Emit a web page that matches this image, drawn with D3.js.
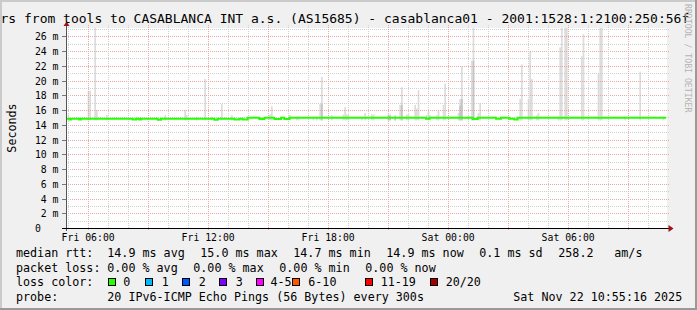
<!DOCTYPE html>
<html>
<head>
<meta charset="utf-8">
<script src="https://cdn.jsdelivr.net/npm/d3@7"></script>
<style>
  body { margin: 0; background: #f0f0f0; }
  svg { display: block; font-family: "DejaVu Sans Mono", monospace; }
</style>
</head>
<body>
<svg id="chart" width="697" height="310"></svg>
<script>
var title = "rs from tools to CASABLANCA INT a.s. (AS15685) - casablanca01 - 2001:1528:1:2100:250:56f";
var startTime = "2025-11-21 04:55", endTime = "2025-11-22 10:55";
var yMax = 27.13;
var yTicks = [0, 2, 4, 6, 8, 10, 12, 14, 16, 18, 20, 22, 24, 26];
var xTicks = ["2025-11-21 06:00", "2025-11-21 12:00", "2025-11-21 18:00", "2025-11-22 00:00", "2025-11-22 06:00"];
var xTickLabels = ["Fri 06:00", "Fri 12:00", "Fri 18:00", "Sat 00:00", "Sat 06:00"];

// median rtt (ms), value holds until next entry
var median = [
  ["2025-11-21 04:55", 14.82], ["2025-11-21 05:05", 14.72], ["2025-11-21 05:10", 14.82],
  ["2025-11-21 05:35", 14.72], ["2025-11-21 05:40", 14.82], ["2025-11-21 08:15", 14.72],
  ["2025-11-21 08:25", 14.82], ["2025-11-21 08:35", 14.72], ["2025-11-21 08:40", 14.82],
  ["2025-11-21 09:30", 14.7], ["2025-11-21 09:40", 14.82], ["2025-11-21 12:20", 14.7],
  ["2025-11-21 12:30", 14.82], ["2025-11-21 13:20", 14.72], ["2025-11-21 13:35", 14.82],
  ["2025-11-21 13:45", 14.72], ["2025-11-21 14:00", 14.95], ["2025-11-21 14:35", 14.8],
  ["2025-11-21 14:50", 14.95], ["2025-11-21 15:20", 14.8], ["2025-11-21 15:40", 14.95],
  ["2025-11-21 15:50", 14.8], ["2025-11-21 16:05", 14.95], ["2025-11-21 22:55", 14.82],
  ["2025-11-21 23:05", 14.95], ["2025-11-22 01:15", 14.8], ["2025-11-22 01:30", 14.95],
  ["2025-11-22 02:25", 14.82], ["2025-11-22 02:40", 14.95], ["2025-11-22 03:05", 14.82],
  ["2025-11-22 03:20", 14.72], ["2025-11-22 03:30", 14.95], ["2025-11-22 10:50", 14.95]
];

// smoke: 5 minute step, highest ping (ms), optional darker core top
var smoke = [
  ["2025-11-21 05:00", 15.4], ["2025-11-21 06:00", 18.6], ["2025-11-21 06:05", 18.6],
  ["2025-11-21 06:20", 27.5], ["2025-11-21 06:25", 16.0], ["2025-11-21 06:55", 15.3],
  ["2025-11-21 08:25", 15.1], ["2025-11-21 09:50", 15.3], ["2025-11-21 10:50", 16.0],
  ["2025-11-21 10:55", 15.3], ["2025-11-21 11:25", 15.1], ["2025-11-21 11:50", 20.2],
  ["2025-11-21 12:10", 15.1], ["2025-11-21 12:40", 16.8], ["2025-11-21 13:10", 15.3],
  ["2025-11-21 14:40", 15.1], ["2025-11-21 15:05", 15.4], ["2025-11-21 15:10", 16.5],
  ["2025-11-21 16:05", 15.3], ["2025-11-21 16:25", 15.1], ["2025-11-21 16:30", 15.1],
  ["2025-11-21 17:15", 15.1], ["2025-11-21 17:25", 15.1], ["2025-11-21 17:35", 16.8],
  ["2025-11-21 17:40", 20.5, 16.8], ["2025-11-21 18:10", 15.3], ["2025-11-21 18:45", 15.4],
  ["2025-11-21 18:50", 16.4], ["2025-11-21 18:55", 15.4], ["2025-11-21 19:00", 15.4],
  ["2025-11-21 19:40", 15.1], ["2025-11-21 19:50", 15.6], ["2025-11-21 20:10", 15.4],
  ["2025-11-21 20:15", 15.4], ["2025-11-21 21:00", 15.4, 15.25], ["2025-11-21 21:05", 15.4, 15.25],
  ["2025-11-21 21:20", 15.3, 15.15], ["2025-11-21 21:35", 16.7], ["2025-11-21 21:40", 19.1, 16.7],
  ["2025-11-21 21:55", 15.4], ["2025-11-21 22:00", 15.4], ["2025-11-21 22:20", 16.7],
  ["2025-11-21 22:25", 16.2], ["2025-11-21 22:30", 18.7], ["2025-11-21 22:55", 15.3],
  ["2025-11-21 23:00", 15.8], ["2025-11-21 23:05", 15.3], ["2025-11-21 23:25", 15.3],
  ["2025-11-21 23:30", 15.9], ["2025-11-21 23:45", 16.7], ["2025-11-21 23:50", 19.6],
  ["2025-11-22 00:30", 15.6], ["2025-11-22 00:35", 17.5, 16.6], ["2025-11-22 00:40", 21.9, 17.5],
  ["2025-11-22 01:00", 15.1], ["2025-11-22 01:10", 22.7], ["2025-11-22 01:15", 27.5, 22.7],
  ["2025-11-22 01:30", 15.6], ["2025-11-22 01:35", 16.9], ["2025-11-22 03:35", 17.5],
  ["2025-11-22 03:40", 22.2], ["2025-11-22 04:00", 17.4], ["2025-11-22 04:05", 24.0],
  ["2025-11-22 04:10", 20.2], ["2025-11-22 04:25", 15.3], ["2025-11-22 04:30", 15.6],
  ["2025-11-22 05:30", 15.1], ["2025-11-22 05:35", 24.5], ["2025-11-22 05:40", 27.5],
  ["2025-11-22 05:50", 27.5], ["2025-11-22 05:55", 27.5], ["2025-11-22 06:40", 23.3],
  ["2025-11-22 06:45", 26.3], ["2025-11-22 07:30", 20.9], ["2025-11-22 07:35", 27.5],
  ["2025-11-22 07:40", 27.5], ["2025-11-22 08:50", 15.1], ["2025-11-22 09:35", 21.2],
  ["2025-11-22 10:45", 15.1]
];
var smokeLow = 14.6;

var lossLabels = ["0", "1", "2", "3", "4-5", "6-10", "11-19", "20/20"];
var lossColors = ["#26ff00", "#00b8ff", "#0059ff", "#7e00ff", "#ff00ff", "#ff5500", "#ff0000", "#a10000"];
var rttStats = ["14.9 ms avg", "15.0 ms max", "14.7 ms min", "14.9 ms now", "0.1 ms sd", "258.2", "am/s"];
var lossStats = ["0.00 % avg", "0.00 % max", "0.00 % min", "0.00 % now"];
var probeText = "20 IPv6-ICMP Echo Pings (56 Bytes) every 300s";
var stamp = "Sat Nov 22 10:55:16 2025";

var W = 697, H = 310;
var plot = {left: 66, right: 666, top: 28, bottom: 228};
var parseTime = d3.timeParse("%Y-%m-%d %H:%M");

var x = d3.scaleTime()
  .domain([parseTime(startTime), parseTime(endTime)])
  .range([plot.left, plot.right]);
var y = d3.scaleLinear().domain([0, yMax]).range([plot.bottom, plot.top]);

var svg = d3.select("#chart");

// background + 3d frame
svg.append("rect").attr("width", W).attr("height", H).attr("fill", "#f0f0f0");
svg.append("path").attr("d", "M0,0H697V2H2V310H0Z").attr("fill", "#cbcbcb");
svg.append("path").attr("d", "M697,0V310H0V308H695V0Z").attr("fill", "#999999");

svg.append("rect")
  .attr("x", plot.left).attr("y", plot.top)
  .attr("width", plot.right - plot.left + 1).attr("height", plot.bottom - plot.top)
  .attr("fill", "#ffffff");

svg.append("defs").append("clipPath").attr("id", "clip")
  .append("rect")
  .attr("x", plot.left).attr("y", plot.top)
  .attr("width", plot.right - plot.left).attr("height", plot.bottom - plot.top);

// smoke
var step = 5 * 60 * 1000;
var sm = svg.append("g").attr("clip-path", "url(#clip)");
smoke.forEach(function(d) {
  var t = parseTime(d[0]);
  var x0 = x(t), x1 = x(new Date(+t + step));
  sm.append("rect")
    .attr("x", x0).attr("width", x1 - x0)
    .attr("y", y(d[1])).attr("height", y(smokeLow) - y(d[1]))
    .attr("fill", "#dcdcdc");
  if (d[2]) {
    sm.append("rect")
      .attr("x", x0).attr("width", x1 - x0)
      .attr("y", y(d[2])).attr("height", y(smokeLow) - y(d[2]))
      .attr("fill", "#c4c4c4");
  }
});

// grid
var grid = svg.append("g");
d3.range(1, 28).forEach(function(v) {
  var major = v % 2 === 0;
  grid.append("line")
    .attr("x1", plot.left).attr("x2", plot.right + 3)
    .attr("y1", Math.round(y(v)) + 0.5).attr("y2", Math.round(y(v)) + 0.5)
    .attr("stroke", major ? "#eaa9a9" : "#d0d0d0")
    .attr("stroke-dasharray", "1,1");
  if (major) {
    grid.append("line")
      .attr("x1", plot.left - 4).attr("x2", plot.left)
      .attr("y1", Math.round(y(v)) + 0.5).attr("y2", Math.round(y(v)) + 0.5)
      .attr("stroke", "#777");
  }
});
x.ticks(d3.timeHour.every(1)).forEach(function(t) {
  var major = t.getHours() % 3 === 0;
  var xx = Math.round(x(t)) + 0.5;
  grid.append("line")
    .attr("x1", xx).attr("x2", xx)
    .attr("y1", plot.top - 3).attr("y2", plot.bottom + (major ? 3 : 0))
    .attr("stroke", major ? "#eaa9a9" : "#d0d0d0")
    .attr("stroke-dasharray", "1,1");
});

// median line
var medData = median.map(function(d) { return {date: parseTime(d[0]), value: d[1]}; });
medData.push({date: parseTime("2025-11-22 10:55"), value: median[median.length - 1][1]});
var medLine = d3.line()
  .x(function(d) { return x(d.date); })
  .y(function(d) { return y(d.value); })
  .curve(d3.curveStepAfter);
svg.append("path")
  .datum(medData)
  .attr("d", medLine)
  .attr("fill", "none")
  .attr("stroke", lossColors[0])
  .attr("stroke-width", 2);

// axes
svg.append("line")
  .attr("x1", plot.left + 0.5).attr("x2", plot.left + 0.5)
  .attr("y1", plot.top - 4).attr("y2", plot.bottom + 3)
  .attr("stroke", "#555");
svg.append("line")
  .attr("x1", plot.left - 4).attr("x2", plot.right + 3)
  .attr("y1", plot.bottom + 0.5).attr("y2", plot.bottom + 0.5)
  .attr("stroke", "#000");
svg.append("path")
  .attr("d", "M63.5,26L66.5,21.5L69.5,26Z")
  .attr("fill", "#9b1414");
svg.append("path")
  .attr("d", "M668.5,225L673.5,228.5L668.5,232Z")
  .attr("fill", "#9b1414");

// tick labels
var axisFont = "9.8px";
svg.append("g").selectAll("text")
  .data(yTicks)
  .enter().append("text")
  .attr("x", function(d) { return d === 0 ? 41 : 58.5; })
  .attr("y", function(d) { return Math.round(y(d)) + 3.8; })
  .attr("text-anchor", "end")
  .attr("font-size", axisFont)
  .attr("fill", "#000")
  .text(function(d) { return d === 0 ? "0" : d + " m"; });

svg.append("g").selectAll("text")
  .data(xTicks)
  .enter().append("text")
  .attr("x", function(d) { return x(parseTime(d)) + 0.5; })
  .attr("y", 240.5)
  .attr("text-anchor", "middle")
  .attr("font-size", axisFont)
  .attr("fill", "#000")
  .text(function(d, i) { return xTickLabels[i]; });

// title, y label, watermark
svg.append("text")
  .attr("x", 0.5).attr("y", 22.5)
  .attr("font-size", "13px")
  .attr("fill", "#000")
  .text(title);
svg.append("text")
  .attr("transform", "translate(15.5,128) rotate(-90)")
  .attr("text-anchor", "middle")
  .attr("font-size", "11.7px")
  .attr("fill", "#000")
  .text("Seconds");
svg.append("text")
  .attr("transform", "translate(685,4) rotate(90)")
  .attr("font-size", "8.2px")
  .attr("fill", "#b4b4b4")
  .text("RRDTOOL / TOBI OETIKER");

// legend
var lf = "11.7px";
var lg = svg.append("g").attr("font-size", lf).attr("fill", "#000");
function put(s, xx, yy) {
  lg.append("text").attr("x", xx).attr("y", yy).attr("xml:space", "preserve").text(s);
}
var rowY = [257, 271.5, 286, 300.5];
put("median rtt:", 16, rowY[0]);
[107.3, 200.3, 293.3, 386.3, 479.3, 558.3, 614.3].forEach(function(xx, i) { put(rttStats[i], xx, rowY[0]); });
put("packet loss:", 16, rowY[1]);
[107.3, 193.3, 279.3, 365.3].forEach(function(xx, i) { put(lossStats[i], xx, rowY[1]); });
put("loss color:", 16, rowY[2]);
var boxX = [108.5, 145.5, 182.5, 219.5, 256.5, 292.5, 365.5, 430.5];
var labX = [123.3, 161.7, 198.7, 235.7, 270.5, 308.3, 380.7, 445.7];
lossLabels.forEach(function(l, i) {
  lg.append("rect")
    .attr("x", boxX[i]).attr("y", 278.5)
    .attr("width", 7).attr("height", 7)
    .attr("fill", lossColors[i])
    .attr("stroke", "#000");
  put(l, labX[i], rowY[2]);
});
put("probe:", 16, rowY[3]);
put(probeText, 107.3, rowY[3]);
put(stamp, 513.3, rowY[3]);
</script>
</body>
</html>
